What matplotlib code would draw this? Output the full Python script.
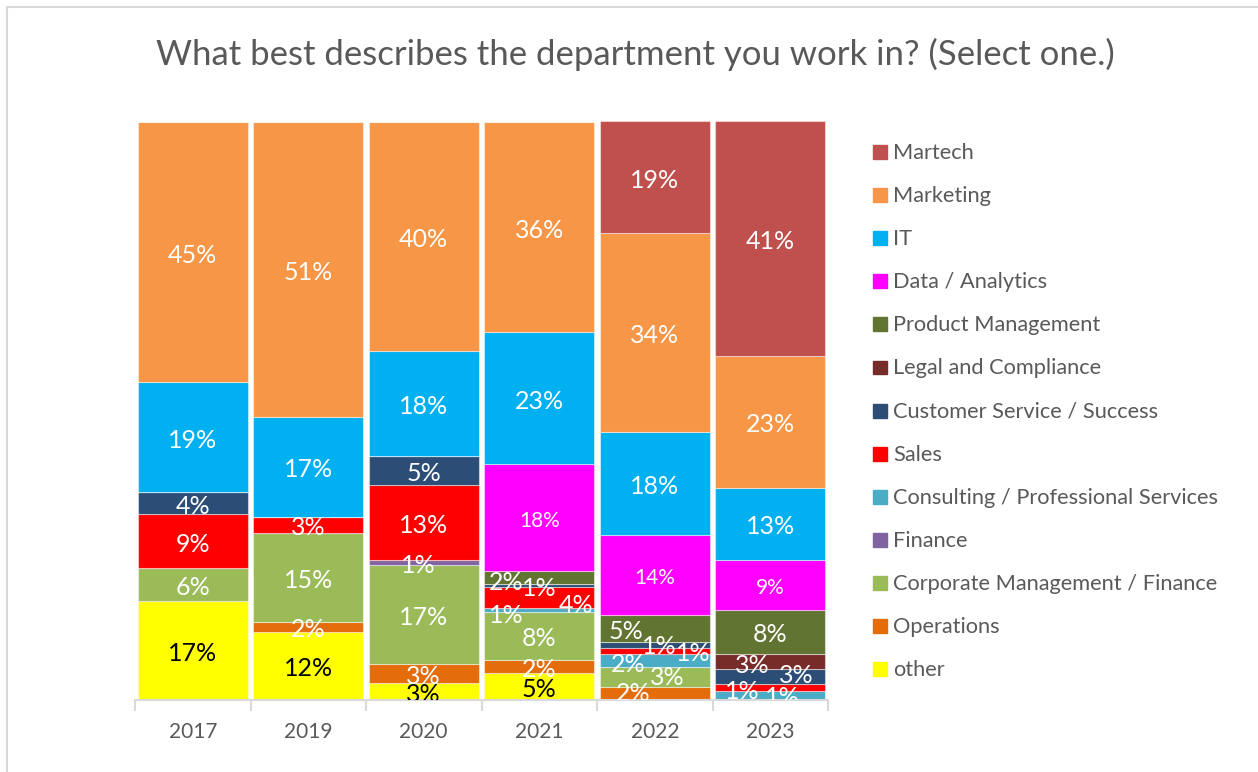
import matplotlib
matplotlib.use("Agg")
import matplotlib.pyplot as plt
from matplotlib.patches import Rectangle
from matplotlib.lines import Line2D

plt.rcParams['font.family'] = ['Lato', 'DejaVu Sans']

# survey years and share of respondents per department (%)
years = ['2017', '2019', '2020', '2021', '2022', '2023']
other = [17.0, 11.7, 2.9, 4.6, 0, 0]
operations = [0, 1.8, 3.2, 2.2, 2.2, 0]
corp_mgmt = [5.7, 15.4, 17.2, 8.4, 3.4, 0]
finance = [0, 0, 0.8, 0, 0, 0]
consulting = [0, 0, 0, 0.6, 2.3, 1.4]
sales = [9.4, 2.7, 13.0, 3.6, 1.0, 1.2]
cust_service = [3.8, 0, 5.0, 0.6, 1.1, 2.6]
legal = [0, 0, 0, 0, 0, 2.7]
product = [0, 0, 0, 2.3, 4.6, 7.6]
data_analytics = [0, 0, 0, 18.4, 13.8, 8.6]
it = [19.0, 17.4, 18.2, 22.9, 18.0, 12.6]
marketing = [45.1, 51.0, 39.7, 36.4, 34.3, 22.8]
martech = [0, 0, 0, 0, 19.4, 40.6]

# stacked bottom -> top
series = [
    ('other', other, '#FFFF00'),
    ('Operations', operations, '#E46C0A'),
    ('Corporate Management / Finance', corp_mgmt, '#9BBB59'),
    ('Finance', finance, '#8064A2'),
    ('Consulting / Professional Services', consulting, '#4BACC6'),
    ('Sales', sales, '#FF0000'),
    ('Customer Service / Success', cust_service, '#2C4D75'),
    ('Legal and Compliance', legal, '#772C2A'),
    ('Product Management', product, '#617431'),
    ('Data / Analytics', data_analytics, '#FF00FF'),
    ('IT', it, '#00B0F0'),
    ('Marketing', marketing, '#F79646'),
    ('Martech', martech, '#C0504D'),
]

# nudges (pixels, right / down) for labels on thin segments
nudge = {
    ('2020', 'Finance'): (-5, 0),
    ('2021', 'Product Management'): (-33, 2),
    ('2021', 'Sales'): (37, 5),
    ('2021', 'Consulting / Professional Services'): (-33, 3),
    ('2022', 'Product Management'): (-29, 0),
    ('2022', 'Customer Service / Success'): (5, -1),
    ('2022', 'Sales'): (39, 0),
    ('2022', 'Consulting / Professional Services'): (-27, 1),
    ('2022', 'Corporate Management / Finance'): (13, -2),
    ('2022', 'Operations'): (-22, -3),
    ('2023', 'Legal and Compliance'): (-18, 1),
    ('2023', 'Customer Service / Success'): (26, -4),
    ('2023', 'Sales'): (-28, 1),
    ('2023', 'Consulting / Professional Services'): (12, -1),
}

W, H = 1258, 772
fig = plt.figure(figsize=(W / 100, H / 100), dpi=100)
ax = fig.add_axes([135 / W, (H - 699.5) / H, 693 / W, 577.5 / H])

x = list(range(len(years)))
bottom = [0.0] * len(years)
for name, vals, color in series:
    bars = ax.bar(x, vals, width=0.956, bottom=bottom, color=color,
                  edgecolor=(1, 1, 1, 0.45), linewidth=0.8)
    for b in bars:
        b.set_clip_on(False)
    for i, v in enumerate(vals):
        if v <= 0:
            continue
        dx, dy = nudge.get((years[i], name), (0, 0))
        ax.annotate(f'{v:.0f}%', (x[i], bottom[i] + v / 2),
                    xytext=(dx, -dy - 3), textcoords='offset pixels',
                    ha='center', va='center',
                    fontsize=15 if name == 'Data / Analytics' else 18,
                    color='black' if name == 'other' else 'white',
                    annotation_clip=False, clip_on=True)
    bottom = [b + v for b, v in zip(bottom, vals)]

ax.set_xlim(-0.5, len(years) - 0.5)
ax.set_ylim(0, 100)
for s in ['top', 'right', 'left']:
    ax.spines[s].set_visible(False)
ax.spines['bottom'].set_color('#D9D9D9')
ax.spines['bottom'].set_linewidth(1.5)
ax.set_yticks([])
ax.set_xticks([i - 0.5 for i in range(len(years) + 1)])
ax.set_xticklabels([])
ax.tick_params(axis='x', which='major', length=8, width=1.5, color='#D9D9D9')
ax.set_xticks(x, minor=True)
ax.set_xticklabels(years, minor=True)
ax.tick_params(axis='x', which='minor', length=0, pad=16, labelsize=15,
               labelcolor='#595959')

fig.text(635 / W, 1 - 54 / H, 'What best describes the department you work in? (Select one.)',
         ha='center', va='center', fontsize=25, color='#595959')

# legend, top entry first
for k, (name, vals, color) in enumerate(reversed(series)):
    yc = 152 + k * 43.1
    fig.add_artist(Rectangle((873 / W, 1 - (yc + 7) / H), 13.5 / W, 14 / H,
                             transform=fig.transFigure, color=color))
    fig.text(893 / W, 1 - (yc + 1) / H, name, ha='left', va='center',
             fontsize=15.7, color='#595959')

# frame lines
fig.add_artist(Line2D([7 / W, 1], [1 - 7 / H, 1 - 7 / H], color='#D9D9D9', lw=1.5,
                      transform=fig.transFigure))
fig.add_artist(Line2D([7 / W, 7 / W], [0, 1 - 7 / H], color='#D9D9D9', lw=1.5,
                      transform=fig.transFigure))

fig.savefig('out.png', dpi=100, facecolor='white')
